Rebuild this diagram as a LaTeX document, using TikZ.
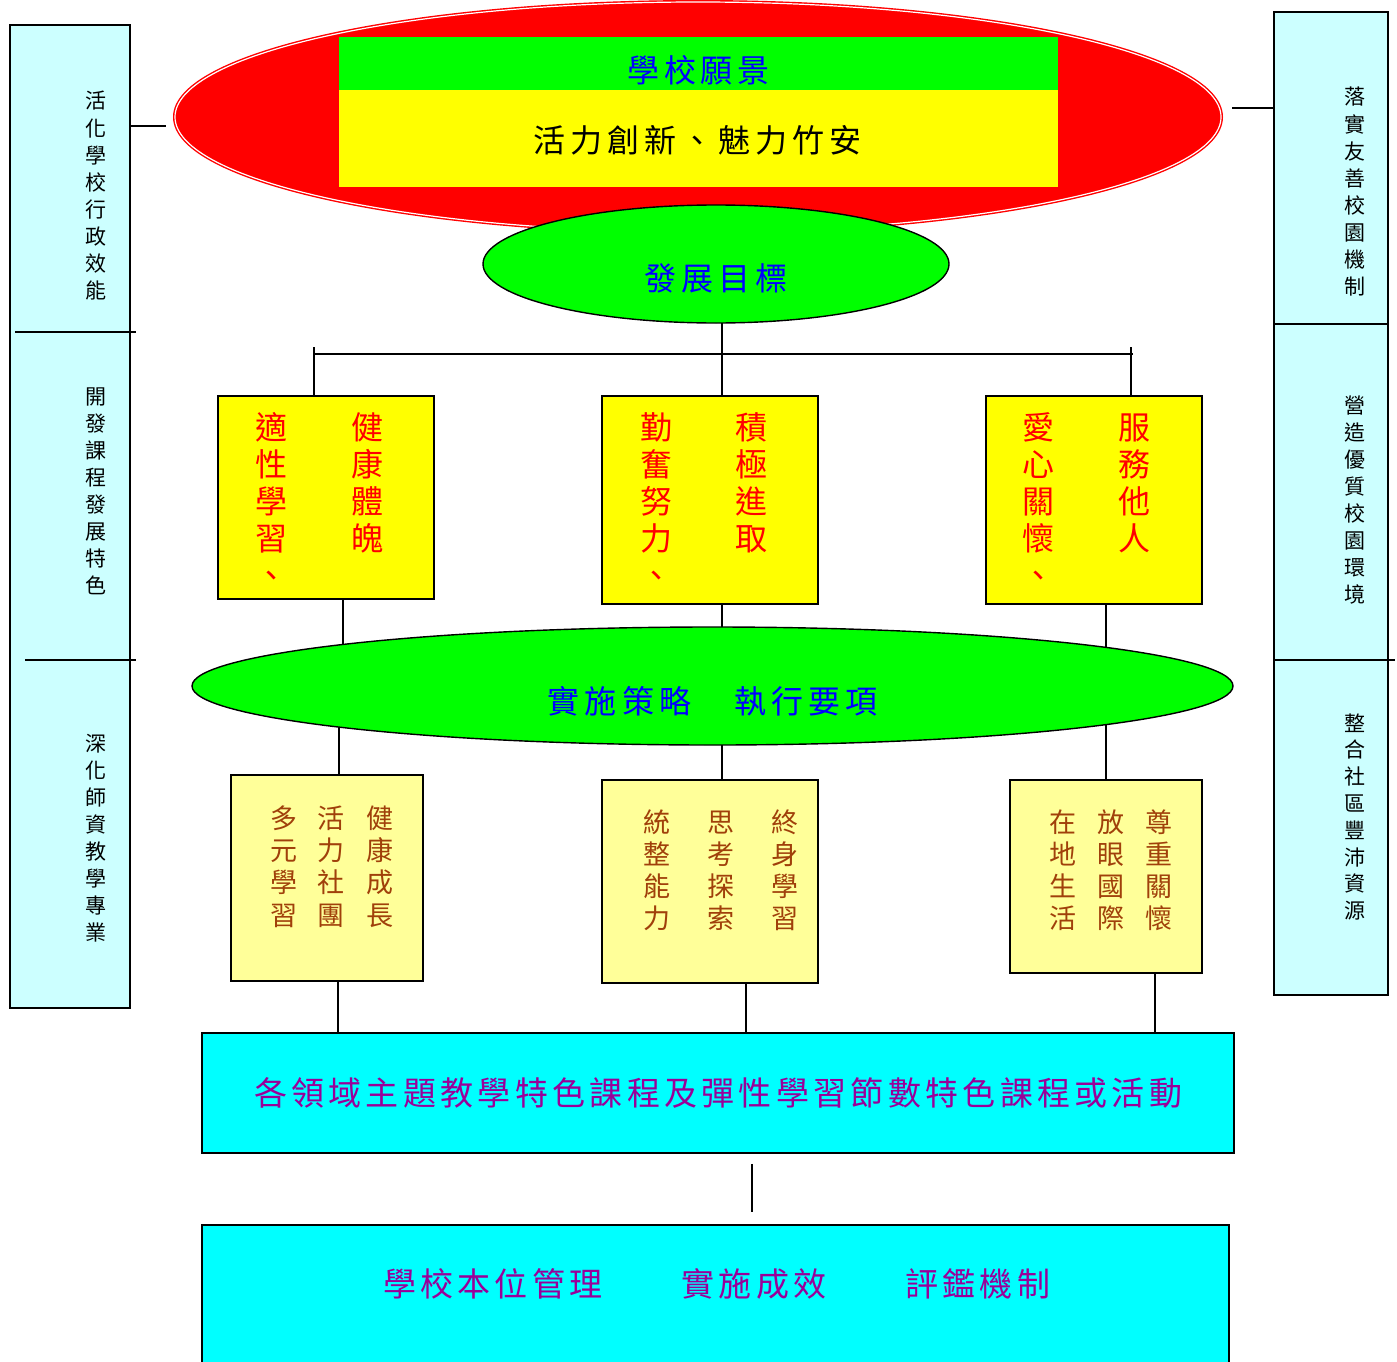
\documentclass[tikz,border=0pt]{standalone}
\usepackage{fontspec}
\newfontfamily\cjk{Noto Sans CJK TC}
\usetikzlibrary{shapes.geometric}
\definecolor{lcyan}{HTML}{CCFFFF}
\definecolor{lyel}{HTML}{FFFF99}
\definecolor{byel}{HTML}{FFFF00}
\definecolor{bgreen}{HTML}{00FF00}
\definecolor{bcyan}{HTML}{00FFFF}
\definecolor{tpurple}{HTML}{990099}
\definecolor{tbrown}{HTML}{A0400A}
\definecolor{tblue}{HTML}{0000FF}
\pgfdeclarelayer{bg}
\pgfsetlayers{bg,main}
\newcommand\vcol[6]{\foreach \c [count=\i from 0] in {#5} {\node[#6] (#1-\i) at (#2,{#3+#4*\i}) {\c};}}
\newcommand\hrow[6]{\foreach \c [count=\i from 0] in {#5} {\node[#6] (#1-\i) at ({#2+#4*\i},#3) {\c};}}
\tikzset{
  ch/.style={inner sep=0pt, outer sep=0pt, anchor=center},
  tA/.style={ch, font=\cjk\fontsize{21}{21}\selectfont, text height=18.5pt, text depth=2.5pt},
  tB/.style={ch, font=\cjk\fontsize{27}{27}\selectfont, text height=23.8pt, text depth=3.2pt},
  tC/.style={ch, font=\cjk\fontsize{32}{32}\selectfont, text height=28.2pt, text depth=3.8pt},
  tD/.style={ch, font=\cjk\fontsize{33}{33}\selectfont, text height=29pt, text depth=4pt},
  sidebox/.style={draw, line width=1.6pt, fill=lcyan, inner sep=0pt},
  ybox/.style={draw, line width=1.6pt, fill=byel, inner sep=0pt},
  lybox/.style={draw, line width=1.6pt, fill=lyel, inner sep=0pt},
  cbox/.style={draw, line width=1.6pt, fill=bcyan, inner sep=0pt},
  gell/.style={ellipse, draw, line width=1.4pt, fill=bgreen, inner sep=0pt},
  conn/.style={line width=1.3pt},
  divider/.style={line width=1.5pt},
}
\begin{document}
\begin{tikzpicture}[x=1pt,y=-1pt]
\useasboundingbox (0,0) rectangle (1397,1362);
% side boxes
\node[sidebox, minimum width=120, minimum height=983] (lbox) at (70,516.5) {};
\node[sidebox, minimum width=114, minimum height=983] (rbox) at (1331,503.5) {};
\draw[divider] (15,332) -- (136,332);
\draw[divider] (25,660) -- (136,660);
\draw[divider] (1275,324) -- (1388,324);
\draw[divider] (1275,660) -- (1395,660);
% vision
\node[ellipse, fill=red, draw=red, double=white, double distance=1.2pt, line width=1.4pt,
      minimum width=1046, minimum height=230, inner sep=0pt] (vision) at (698,117) {};
\node[fill=bgreen, minimum width=719, minimum height=53, inner sep=0pt] (vtitle) at (698.5,63.5) {};
\node[fill=byel, minimum width=719, minimum height=97, inner sep=0pt] (vbody) at (698.5,138.5) {};
% goal
\node[gell, minimum width=466, minimum height=118] (goal) at (716,264) {};
% goal boxes
\node[ybox, minimum width=216, minimum height=203] (g1) at (326,497.5) {};
\node[ybox, minimum width=216, minimum height=208] (g2) at (710,500) {};
\node[ybox, minimum width=216, minimum height=208] (g3) at (1094,500) {};
% strategy
\node[gell, minimum width=1041, minimum height=118] (strat) at (712.5,686) {};
% strategy boxes
\node[lybox, minimum width=192, minimum height=206] (s1) at (327,878) {};
\node[lybox, minimum width=216, minimum height=203] (s2) at (710,881.5) {};
\node[lybox, minimum width=192, minimum height=193] (s3) at (1106,876.5) {};
% course and management
\node[cbox, minimum width=1032, minimum height=120] (course) at (718,1093) {};
\node[cbox, minimum width=1027, minimum height=160] (mgmt) at (715.5,1305) {};
% side texts
\vcol{la}{96}{101}{27}{活,化,學,校,行,政,效,能}{tA}
\vcol{lb}{96}{396}{27}{開,發,課,程,發,展,特,色}{tA}
\vcol{lc}{96}{743}{27}{深,化,師,資,教,學,專,業}{tA}
\vcol{ra}{1355}{97}{27}{落,實,友,善,校,園,機,制}{tA}
\vcol{rb}{1355}{405}{27}{營,造,優,質,校,園,環,境}{tA}
\vcol{rc}{1355}{723}{26.8}{整,合,社,區,豐,沛,資,源}{tA}
% header texts
\hrow{vt}{643.5}{70}{36.7}{學,校,願,景}{tC,text=tblue}
\hrow{vb}{549.5}{140}{37}{活,力,創,新,、,魅,力,竹,安}{tC}
\hrow{gt}{660.5}{278}{37}{發,展,目,標}{tC,text=tblue}
% goal texts
\vcol{g1a}{271}{427}{37}{適,性,學,習,、}{tC,text=red}
\vcol{g1b}{367}{427}{37}{健,康,體,魄}{tC,text=red}
\vcol{g2a}{656}{427}{37}{勤,奮,努,力,、}{tC,text=red}
\vcol{g2b}{751}{427}{37}{積,極,進,取}{tC,text=red}
\vcol{g3a}{1038}{427}{37}{愛,心,關,懷,、}{tC,text=red}
\vcol{g3b}{1134}{427}{37}{服,務,他,人}{tC,text=red}
\hrow{st}{563.5}{701}{37.3}{實,施,策,略,　,執,行,要,項}{tC,text=tblue}
% strategy texts
\vcol{s1a}{284}{818}{32.3}{多,元,學,習}{tB,text=tbrown}
\vcol{s1b}{331}{818}{32.3}{活,力,社,團}{tB,text=tbrown}
\vcol{s1c}{380}{818}{32.3}{健,康,成,長}{tB,text=tbrown}
\vcol{s2a}{657}{822}{32}{統,整,能,力}{tB,text=tbrown}
\vcol{s2b}{721}{822}{32}{思,考,探,索}{tB,text=tbrown}
\vcol{s2c}{785}{822}{32}{終,身,學,習}{tB,text=tbrown}
\vcol{s3a}{1063}{822}{32}{在,地,生,活}{tB,text=tbrown}
\vcol{s3b}{1111}{822}{32}{放,眼,國,際}{tB,text=tbrown}
\vcol{s3c}{1159}{822}{32}{尊,重,關,懷}{tB,text=tbrown}
\hrow{ct}{270.5}{1093}{37.3}{各,領,域,主,題,教,學,特,色,課,程,及,彈,性,學,習,節,數,特,色,課,程,或,活,動}{tD,text=tpurple}
\hrow{mt}{399.5}{1284}{37.3}{學,校,本,位,管,理,　,　,實,施,成,效,　,　,評,鑑,機,制}{tD,text=tpurple}
% connector coordinates
\coordinate (gA) at ([xshift=12]g2.north);
\coordinate (busL) at (314,354);
\coordinate (busR) at (1133,354);
\coordinate (tL) at (314,347);
\coordinate (tR) at (1131,347);
\coordinate (d1) at ([xshift=17]g1.south);
\coordinate (d2) at ([xshift=12]g2.south);
\coordinate (d3) at ([xshift=12]g3.south);
\coordinate (e1) at ([xshift=12]s1.north);
\coordinate (e2) at ([xshift=12]s2.north);
\coordinate (e3) at (s3.north);
\coordinate (f1) at ([xshift=11]s1.south);
\coordinate (f2) at ([xshift=36]s2.south);
\coordinate (f3) at ([xshift=49]s3.south);
\coordinate (h) at ([xshift=34]course.south);
\coordinate (lc) at (166,126);
\coordinate (rc) at (1232,108);
\begin{pgfonlayer}{bg}
\draw[conn] (gA |- goal.center) -- (gA);
\draw[conn] (d1) -- (d1 |- strat.center);
\draw[conn] (d2) -- (d2 |- strat.center);
\draw[conn] (d3) -- (d3 |- strat.center);
\draw[conn] (e1 |- strat.center) -- (e1);
\draw[conn] (e2 |- strat.center) -- (e2);
\draw[conn] (e3 |- strat.center) -- (e3);
\end{pgfonlayer}
\draw[conn] (busL) -- (busR);
\draw[conn] (tL) -- (tL |- g1.north);
\draw[conn] (tR) -- (tR |- g3.north);
\draw[conn] (f1) -- (f1 |- course.north);
\draw[conn] (f2) -- (f2 |- course.north);
\draw[conn] (f3) -- (f3 |- course.north);
\draw[conn, shorten <=10pt, shorten >=12pt] (h) -- (h |- mgmt.north);
\draw[conn] (lc -| lbox.east) -- (lc);
\draw[conn] (rc) -- (rc -| rbox.west);
\end{tikzpicture}
\end{document}
